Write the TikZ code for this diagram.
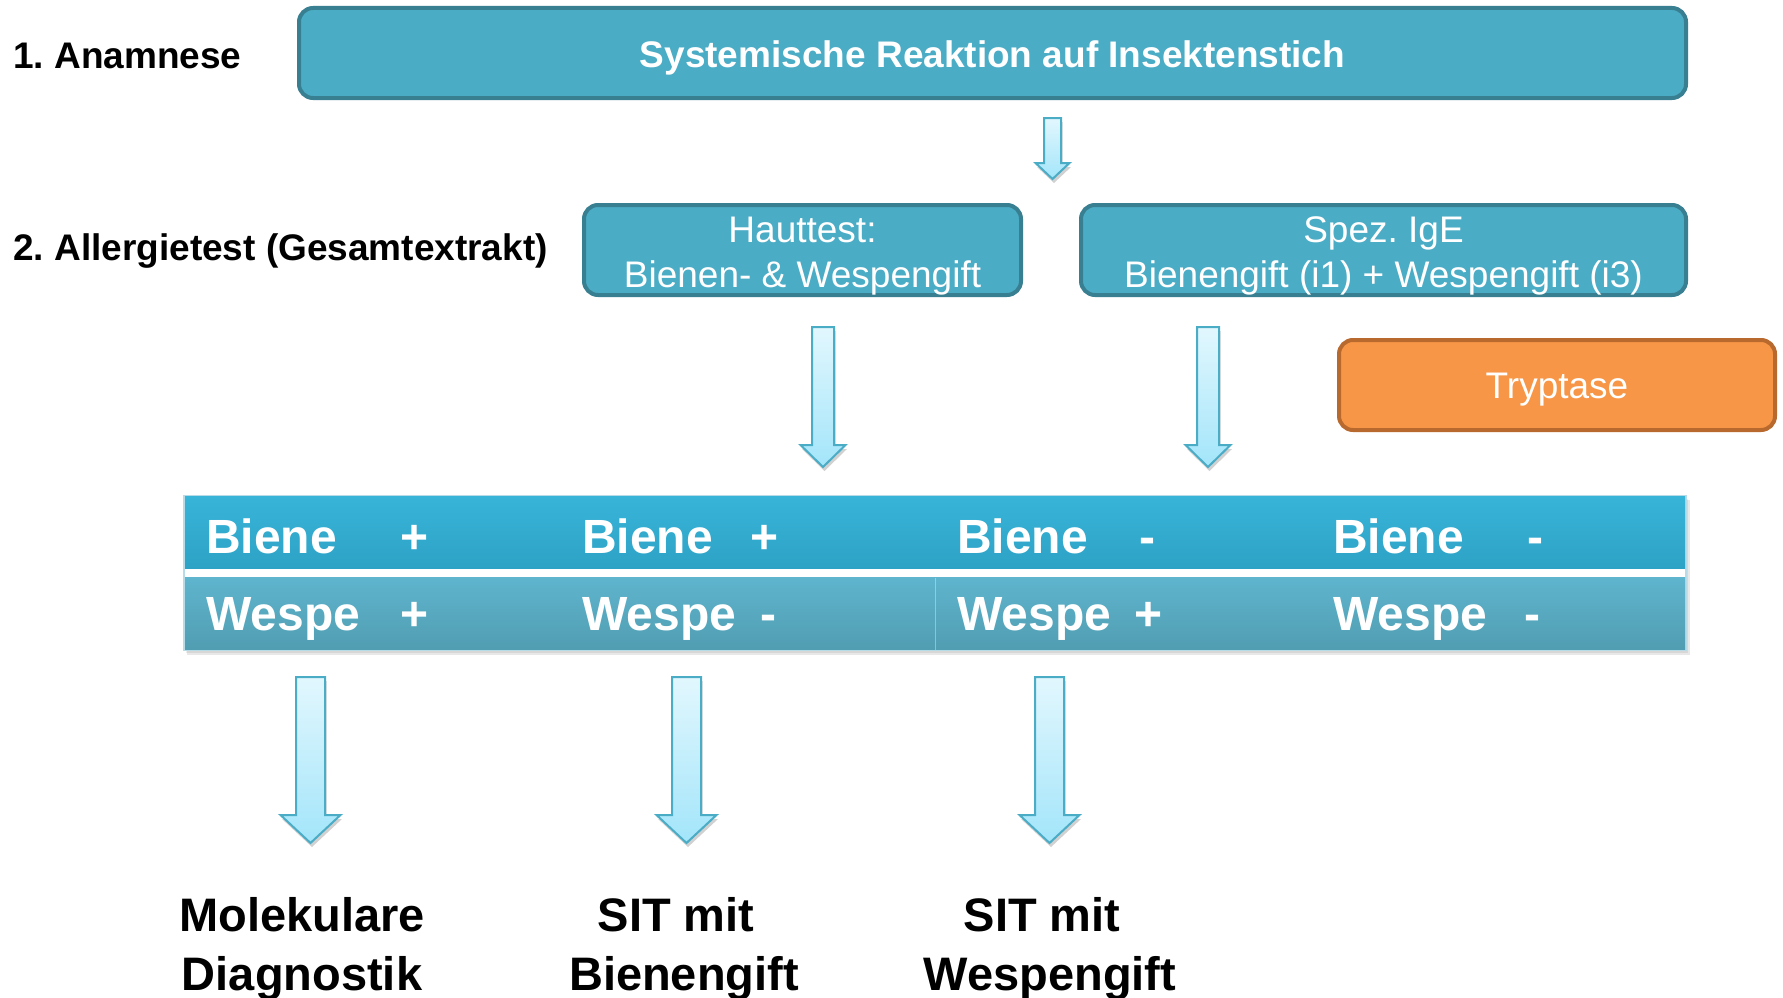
\documentclass[tikz,border=0pt]{standalone}
\usepackage{fontspec}
\setmainfont{Liberation Sans}
\usetikzlibrary{calc,shadows}
\frenchspacing
\definecolor{boxfill}{HTML}{4BACC6}
\definecolor{boxline}{HTML}{387F92}
\definecolor{orfill}{HTML}{F79646}
\definecolor{orline}{HTML}{B8692E}
\definecolor{arrtop}{HTML}{E2F7FE}
\definecolor{arrbot}{HTML}{A3E5FA}
\definecolor{arrline}{HTML}{4BACC6}
\definecolor{rowAtop}{HTML}{38B4D9}
\definecolor{rowAbot}{HTML}{2DA2C5}
\definecolor{rowBtop}{HTML}{5EB5CD}
\definecolor{rowBbot}{HTML}{519DB2}
\definecolor{tabline}{HTML}{B7DCE8}
\tikzset{
 box/.style={draw=boxline, fill=boxfill, line width=4pt, rounded corners=14pt, text=white, align=center, inner sep=0pt},
 obox/.style={box, draw=orline, fill=orfill},
 boxtext/.style={font=\fontsize{37}{45}\selectfont, text=white, align=center, inner sep=0pt, anchor=base},
 lbl/.style={font=\fontsize{37}{45}\selectfont\bfseries, anchor=base west, inner sep=0pt},
 cell/.style={font=\fontsize{48}{48}\selectfont\bfseries, text=white, inner sep=0pt, anchor=base west},
 sign/.style={font=\fontsize{48}{48}\selectfont\bfseries, text=white, inner sep=0pt, anchor=base},
 blockarrow/.style={draw=arrline, line width=2pt, top color=arrtop, bottom color=arrbot, line join=miter,
   drop shadow={shadow xshift=1.5pt, shadow yshift=-4pt, opacity=0.18, fill=black}},
 result/.style={font=\fontsize{47}{59}\selectfont\bfseries, align=center, inner sep=0pt, anchor=base},
 rowA/.style={top color=rowAtop, bottom color=rowAbot, inner sep=0pt},
 rowB/.style={top color=rowBtop, bottom color=rowBbot, inner sep=0pt},
}
\newcommand\barrow[5]{%
 \path[blockarrow] ($(#1)+(-#3,0)$) -- ($(#2)+(-#3,-#5)$) -- ($(#2)+(-#4,-#5)$) -- (#2)
   -- ($(#2)+(#4,-#5)$) -- ($(#2)+(#3,-#5)$) -- ($(#1)+(#3,0)$) -- cycle;}
\begin{document}
\begin{tikzpicture}[x=1pt,y=-1pt]
\useasboundingbox[fill=white] (0,0) rectangle (1783,998);

% left labels
\node[lbl] (l1) at (13,69) {1. Anamnese};
\node[lbl] (l2) at (13,260) {2. Allergietest (Gesamtextrakt)};

% boxes
\node[box, minimum width=1387, minimum height=90] (top) at (992.5,53) {};
\node[boxtext, font=\fontsize{37}{45}\selectfont\bfseries] (toptxt) at (992.5,68) {Systemische Reaktion auf Insektenstich};

\node[box, minimum width=437, minimum height=90] (haut) at (802.5,250) {};
\node[boxtext] (hauttxt) at (802.5,287) {Hauttest:\\Bienen- \& Wespengift};

\node[box, minimum width=605, minimum height=90] (ige) at (1383.5,250) {};
\node[boxtext] (igetxt) at (1383.5,287) {Spez. IgE\\Bienengift (i1) + Wespengift (i3)};

\node[obox, minimum width=436, minimum height=90] (tryp) at (1557,385) {};
\node[boxtext] (tryptxt) at (1557,398) {Tryptase};

% arrows
\coordinate (a0s) at (1052.5,118);
\coordinate (a0e) at (1052.5,179);
\barrow{a0s}{a0e}{8.5}{17}{16}
\coordinate (a1s) at (823,327);
\coordinate (a1e) at (823,467);
\barrow{a1s}{a1e}{11}{22.5}{22}
\coordinate (a2s) at (1208,327);
\coordinate (a2e) at (1208,467);
\barrow{a2s}{a2e}{11}{22.5}{22}

% table
\fill[black, opacity=0.09] (187,500) rectangle (1690,655);
\fill[black, opacity=0.07] (186,499) rectangle (1688,653);
\fill[white, draw=tabline, line width=2pt] (184,496) rectangle (1686,650);
\node[rowA, minimum width=1500, minimum height=72] (r1) at (935,532.5) {};
\node[rowB, minimum width=1500, minimum height=72] (r2) at (935,613.5) {};
\draw[white, opacity=0.35, line width=1pt] (935,577.5) -- (935,649.5);

\node[cell] (b1) at (206,553) {Biene};
\node[sign] (b1s) at (415,553) {+};
\node[cell] (b2) at (582,553) {Biene};
\node[sign] (b2s) at (765,553) {+};
\node[cell] (b3) at (957,553) {Biene};
\node[sign] (b3s) at (1147,553) {-};
\node[cell] (b4) at (1333,553) {Biene};
\node[sign] (b4s) at (1535,553) {-};

\node[cell] (w1) at (206,630) {Wespe};
\node[sign] (w1s) at (415,630) {+};
\node[cell] (w2) at (582,630) {Wespe};
\node[sign] (w2s) at (768,630) {-};
\node[cell] (w3) at (957,630) {Wespe};
\node[sign] (w3s) at (1149,630) {+};
\node[cell] (w4) at (1333,630) {Wespe};
\node[sign] (w4s) at (1532,630) {-};

% bottom arrows
\coordinate (d1s) at (310.5,677);
\coordinate (d1e) at (310.5,843);
\barrow{d1s}{d1e}{14.5}{30}{28}
\coordinate (d2s) at (686.5,677);
\coordinate (d2e) at (686.5,843);
\barrow{d2s}{d2e}{14.5}{30}{28}
\coordinate (d3s) at (1049.5,677);
\coordinate (d3e) at (1049.5,843);
\barrow{d3s}{d3e}{14.5}{30}{28}

% results
\node[result] (res1) at (302,990) {Molekulare\\Diagnostik};
\node[result] (res2) at (684,990) {SIT mit\rule{16pt}{0pt}\\Bienengift};
\node[result] (res3) at (1050,990) {SIT mit\rule{16pt}{0pt}\\Wespengift};
\end{tikzpicture}
\end{document}
